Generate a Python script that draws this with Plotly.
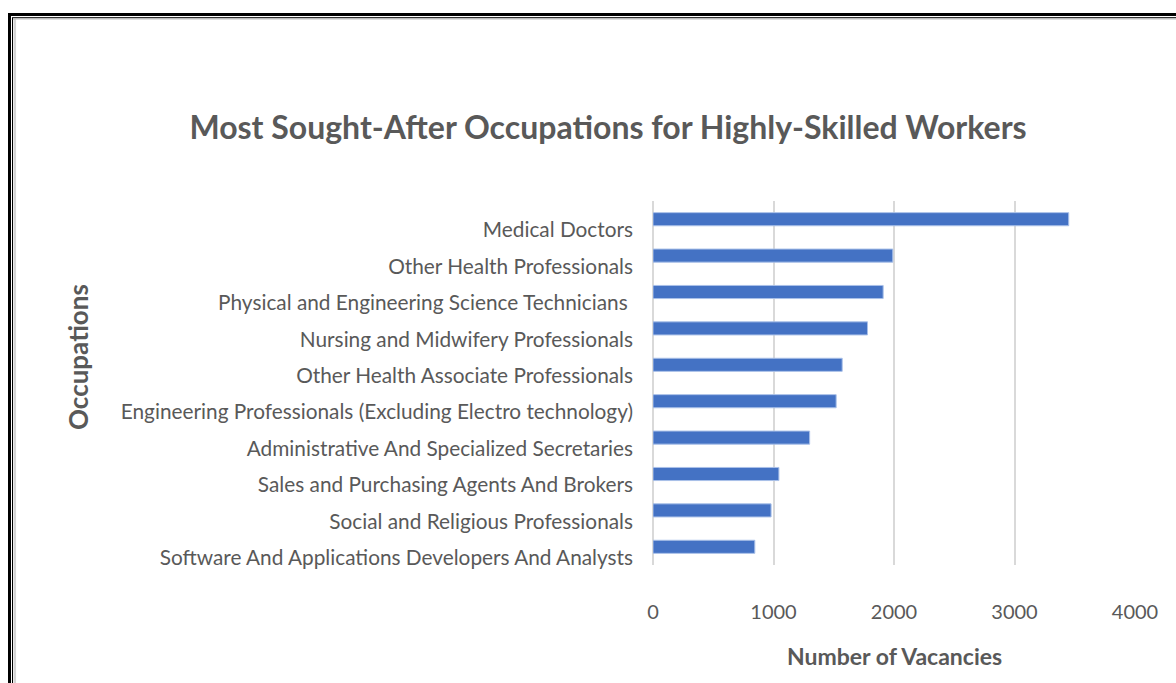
import plotly.graph_objects as go

occupations = [
    "Medical Doctors",
    "Other Health Professionals",
    "Physical and Engineering Science Technicians ",
    "Nursing and Midwifery Professionals",
    "Other Health Associate Professionals",
    "Engineering Professionals (Excluding Electro technology)",
    "Administrative And Specialized Secretaries",
    "Sales and Purchasing Agents And Brokers",
    "Social and Religious Professionals",
    "Software And Applications Developers And Analysts",
]
vacancies = [3450, 1990, 1910, 1780, 1570, 1520, 1300, 1045, 980, 845]
x_ticks = [0, 1000, 2000, 3000, 4000]

W_FIG, H_FIG = 1176, 683
L, R, T, B = 653, 1135, 201, 565
PW, PH = R - L, B - T


def px(x):
    return (x - L) / PW


def py(y):
    return (B - y) / PH


GREY = "#595959"
FONT = "Lato"

fig = go.Figure(
    go.Bar(
        x=vacancies,
        y=occupations,
        orientation="h",
        marker=dict(color="#4472C4", line=dict(color="#a9c0e8", width=1)),
        width=0.36,
    )
)

fig.update_layout(
    width=W_FIG,
    height=H_FIG,
    margin=dict(l=L, r=W_FIG - R, t=T, b=H_FIG - B, pad=0),
    paper_bgcolor="white",
    plot_bgcolor="white",
    showlegend=False,
    font=dict(family=FONT, color=GREY),
    title=dict(
        text="<b>Most Sought-After Occupations for Highly-Skilled Workers</b>",
        x=608 / W_FIG,
        xanchor="center",
        y=1 - 128 / H_FIG,
        yanchor="middle",
        font=dict(family=FONT, size=32, color=GREY),
    ),
)

fig.update_xaxes(
    range=[0, 4000],
    tickvals=x_ticks,
    showgrid=True,
    gridcolor="#d9d9d9",
    gridwidth=2,
    zeroline=True,
    zerolinecolor="#d9d9d9",
    zerolinewidth=2,
    showline=False,
    ticks="",
    ticklabelstandoff=33,
    tickfont=dict(family=FONT, size=20, color=GREY),
)
fig.update_yaxes(
    autorange="reversed",
    showgrid=False,
    showline=False,
    ticks="",
    ticklabelstandoff=19,
    ticklabelshift=-11,
    tickfont=dict(family=FONT, size=20.8, color=GREY),
)

fig.add_annotation(
    text="<b>Occupations</b>", xref="paper", yref="paper",
    x=px(78), y=py(357), xanchor="center", yanchor="middle",
    textangle=-90, showarrow=False,
    font=dict(family=FONT, size=26, color=GREY),
)
fig.add_annotation(
    text="<b>Number of Vacancies</b>", xref="paper", yref="paper",
    x=px(894), y=py(656), xanchor="center", yanchor="middle",
    showarrow=False,
    font=dict(family=FONT, size=23, color=GREY),
)


# frame border (outer thick black, inner thin black, grey shade)
def hline(y, x0, x1, color, w):
    fig.add_shape(type="line", xref="paper", yref="paper",
                  x0=px(x0), x1=px(x1), y0=py(y), y1=py(y),
                  line=dict(color=color, width=w))


def vline(x, y0, y1, color, w):
    fig.add_shape(type="line", xref="paper", yref="paper",
                  x0=px(x), x1=px(x), y0=py(y0), y1=py(y1),
                  line=dict(color=color, width=w))


vline(9.5, 13, 700, "black", 3)
hline(14.5, 8, 1200, "black", 3)
vline(12.5, 17, 700, "black", 1)
hline(17.5, 12, 1200, "#333333", 1)
vline(14.8, 18, 700, "#d4d4d4", 2.5)
hline(18.8, 13, 1200, "#bbbbbb", 1.5)

fig.write_html(
    "out.html",
    config={"displayModeBar": False},
    post_script="document.body.style.margin='0px';document.body.style.overflow='hidden';",
)
